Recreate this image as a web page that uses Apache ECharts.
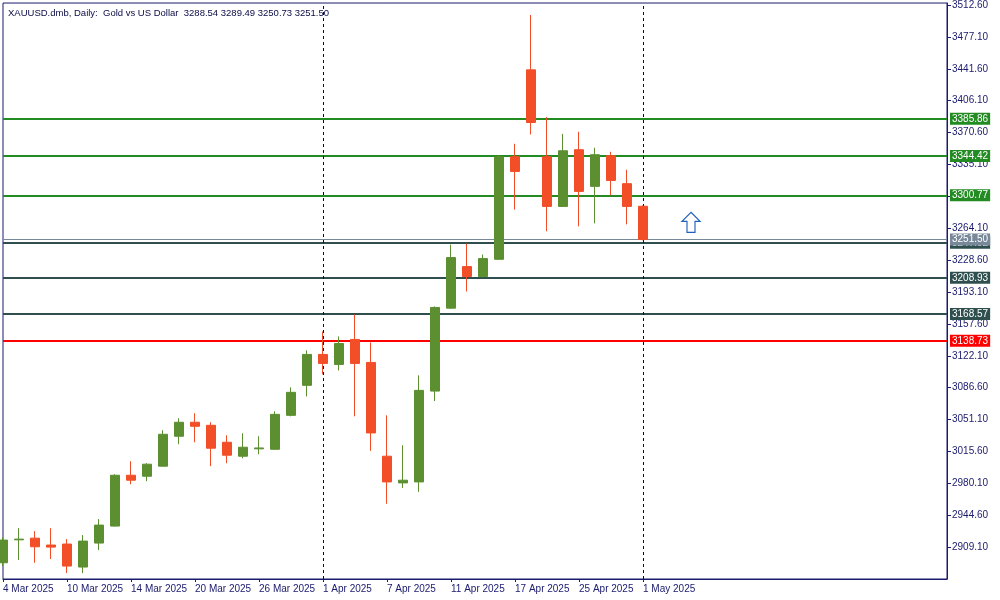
<!DOCTYPE html>
<html>
<head>
<meta charset="utf-8">
<script src="https://cdn.jsdelivr.net/npm/echarts@6/dist/echarts.min.js"></script>
<style>html,body{margin:0;padding:0;background:#fff;}#c{width:1000px;height:600px;}</style>
</head>
<body>
<div id="c"></div>
<script>
// ---- data ----
const dates = [
  '4 Mar 2025','5 Mar 2025','6 Mar 2025','7 Mar 2025','10 Mar 2025','11 Mar 2025','12 Mar 2025','13 Mar 2025',
  '14 Mar 2025','17 Mar 2025','18 Mar 2025','19 Mar 2025','20 Mar 2025','21 Mar 2025','24 Mar 2025','25 Mar 2025',
  '26 Mar 2025','27 Mar 2025','28 Mar 2025','31 Mar 2025','1 Apr 2025','2 Apr 2025','3 Apr 2025','4 Apr 2025',
  '7 Apr 2025','8 Apr 2025','9 Apr 2025','10 Apr 2025','11 Apr 2025','14 Apr 2025','15 Apr 2025','16 Apr 2025',
  '17 Apr 2025','22 Apr 2025','23 Apr 2025','24 Apr 2025','25 Apr 2025','28 Apr 2025','29 Apr 2025','30 Apr 2025',
  '1 May 2025'
];
const opens  = [2891.7,2917.2,2919.1,2911.4,2912.5,2886.9,2913.6,2932.5,2989.1,2988.0,2999.2,3032.5,3048.1,3044.7,3025.8,3010.3,
  3018.5,3018.0,3055.8,3089.2,3123.6,3112.5,3140.3,3114.7,3010.3,2980.6,2981.7,3082.8,3175.1,3221.4,3210.3,3229.5,
  3343.7,3440.4,3343.7,3288.4,3351.5,3310.7,3344.8,3313.7,3288.54];
const highs  = [2920.0,2930.2,2926.9,2930.2,2918.0,2922.5,2940.3,2990.2,3004.7,3002.5,3039.2,3052.5,3058.1,3048.1,3033.6,3035.8,
  3032.5,3060.3,3087.0,3128.1,3149.2,3143.6,3168.1,3137.0,3055.8,3022.5,3100.3,3177.0,3245.9,3247.0,3234.8,3345.6,
  3358.1,3501.5,3387.8,3369.2,3371.5,3353.7,3349.2,3329.2,3289.49];
const lows   = [2888.0,2894.7,2891.7,2895.8,2880.2,2880.2,2905.8,2932.0,2979.1,2982.5,2999.0,3023.6,3025.8,2999.2,3002.5,3008.0,
  3012.5,3017.5,3054.7,3076.9,3101.4,3105.8,3054.7,3016.2,2957.3,2975.0,2970.6,3071.7,3174.5,3193.6,3209.5,3229.0,
  3284.8,3368.5,3260.7,3288.0,3266.2,3269.5,3300.7,3268.4,3250.73];
const closes = [2916.9,2918.0,2909.5,2909.1,2888.0,2915.8,2933.6,2989.1,2983.6,3001.4,3034.7,3048.1,3043.6,3019.2,3011.4,3020.3,
  3019.5,3056.9,3081.4,3123.6,3113.6,3135.8,3113.6,3036.2,2981.7,2983.6,3083.6,3175.9,3231.4,3210.3,3230.3,3343.7,
  3327.3,3381.8,3288.4,3350.3,3305.1,3345.9,3317.3,3288.4,3251.50];
const levels = [3385.86, 3344.42, 3300.77, 3247.92, 3208.93, 3168.57, 3138.73];
const levelKinds = ['support', 'support', 'support', 'resist', 'resist', 'resist', 'key'];
const monthMarks = ['1 Apr 2025', '1 May 2025'];
const arrowAt = [43, 3270.7];
const yMin = 2873.6, yMax = 3514.8, yStep = 35.5;
const titleText = 'XAUUSD.dmb, Daily:  Gold vs US Dollar  3288.54 3289.49 3250.73 3251.50';

// ---- styles ----
const NAVY = '#1a1a6e';
const kindColor = { support: '#228b22', resist: '#2f4f4f', key: '#ff0000' };
const FONT = '"Liberation Sans", Arial, sans-serif';

const TOTAL = 60;
const cats = dates.slice();
for (let i = dates.length; i < TOTAL; i++) cats.push('pad' + i);
const lastIdx = dates.length - 1;
const showIdx = (i) => i % 4 === 0 && i <= lastIdx;

const kData = dates.map((d, i) => [opens[i], closes[i], lows[i], highs[i]]);

const lineData = levels.map((v, i) => {
  const c = kindColor[levelKinds[i]];
  return { yAxis: v, lineStyle: { color: c, width: 2, type: 'solid' },
           label: { backgroundColor: c } };
});
const last = closes[lastIdx];
lineData.push({ yAxis: last, lineStyle: { color: '#778899', width: 1, type: 'solid' },
                label: { backgroundColor: '#778899' } });
monthMarks.forEach(m => lineData.push({
  xAxis: m, lineStyle: { color: '#000080', width: 1, type: [3, 3] }, label: { show: false }
}));

const chart = echarts.init(document.getElementById('c'), null, { renderer: 'canvas' });
chart.setOption({
  animation: false,
  backgroundColor: '#fff',
  title: {
    text: titleText, left: 3, top: 3,
    textStyle: { fontSize: 9.5, fontWeight: 'normal', color: '#0a0a46', fontFamily: FONT }
  },
  grid: { left: 2, right: 53, top: 2, bottom: 21, show: true, borderColor: NAVY, borderWidth: 1, backgroundColor: 'transparent' },
  xAxis: {
    type: 'category', data: cats, boundaryGap: false,
    axisLine: { lineStyle: { color: NAVY, width: 1 } },
    axisTick: { show: true, length: 3, interval: (i) => showIdx(i), lineStyle: { color: NAVY } },
    axisLabel: {
      interval: (i) => showIdx(i), align: 'left', margin: 5, color: NAVY, fontSize: 10, fontFamily: FONT,
      hideOverlap: false
    },
    splitLine: { show: false }
  },
  yAxis: {
    type: 'value', position: 'right', min: yMin, max: yMax, interval: yStep, scale: true,
    axisLine: { show: true, lineStyle: { color: NAVY, width: 1 } },
    axisTick: { show: true, length: 4, lineStyle: { color: NAVY } },
    axisLabel: {
      color: NAVY, fontSize: 10, fontFamily: FONT, margin: 5, showMinLabel: false, showMaxLabel: false,
      formatter: (v) => (Math.abs(v - yMax) < 0.01 || Math.abs(v - yMin) < 0.01) ? '' : v.toFixed(2)
    },
    splitLine: { show: false }
  },
  series: [{
    type: 'candlestick', data: kData, barWidth: 10, clip: true, z: 3,
    itemStyle: { color: '#5b8f30', color0: '#f24e27', borderColor: '#5b8f30', borderColor0: '#f24e27', borderWidth: 1 },
    markLine: {
      silent: true, symbol: ['none', 'none'], z: 1, animation: false,
      label: {
        show: true, position: 'end', distance: 3, color: '#fff', fontSize: 10, fontFamily: FONT,
        padding: [1, 2, 0, 2], lineHeight: 11, formatter: (p) => Number(p.value).toFixed(2)
      },
      data: lineData
    },
    markPoint: {
      silent: true, animation: false,
      data: [{
        coord: arrowAt,
        symbol: 'path://M9,0 L18,9 L13,9 L13,20 L5,20 L5,9 L0,9 Z',
        symbolSize: [18, 20],
        itemStyle: { color: '#ffffff', borderColor: '#1f5fbf', borderWidth: 1.2 },
        label: { show: false }
      }]
    }
  }]
});
</script>
</body>
</html>
